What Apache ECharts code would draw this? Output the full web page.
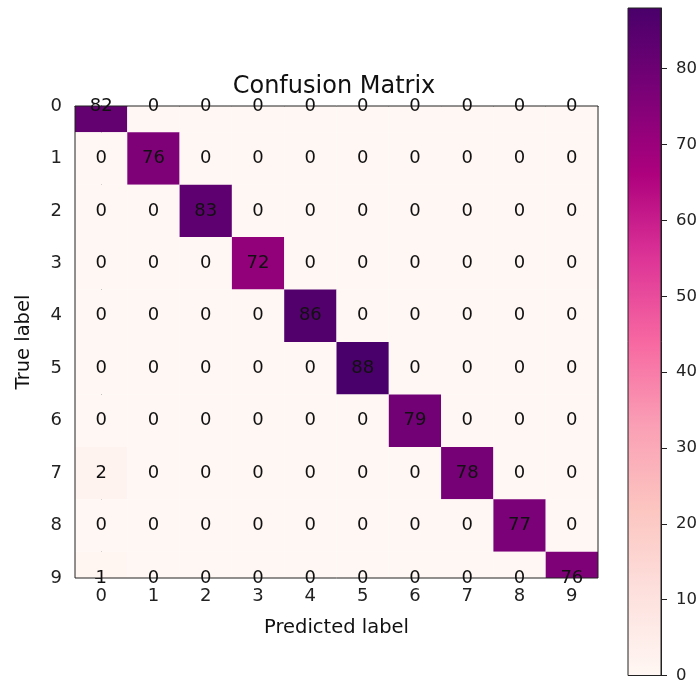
<!DOCTYPE html>
<html>
<head>
<meta charset="utf-8">
<script src="https://cdn.jsdelivr.net/npm/echarts@6/dist/echarts.min.js"></script>
<style>html,body{margin:0;padding:0;background:#fff}#c{width:700px;height:684px}</style>
</head>
<body>
<div id="c"></div>
<script>
const classes = ['0','1','2','3','4','5','6','7','8','9'];
const row0 = [82,0,0,0,0,0,0,0,0,0];
const row1 = [0,76,0,0,0,0,0,0,0,0];
const row2 = [0,0,83,0,0,0,0,0,0,0];
const row3 = [0,0,0,72,0,0,0,0,0,0];
const row4 = [0,0,0,0,86,0,0,0,0,0];
const row5 = [0,0,0,0,0,88,0,0,0,0];
const row6 = [0,0,0,0,0,0,79,0,0,0];
const row7 = [2,0,0,0,0,0,0,78,0,0];
const row8 = [0,0,0,0,0,0,0,0,77,0];
const row9 = [1,0,0,0,0,0,0,0,0,76];
const matrix = [row0,row1,row2,row3,row4,row5,row6,row7,row8,row9];
const colorbarTicks = [0,10,20,30,40,50,60,70,80];
const vmin = 0, vmax = 88;
const rdpu = ['#fff7f3','#fde0dd','#fcc5c0','#fa9fb5','#f768a1','#dd3497','#ae017e','#7a0177','#49006a'];

const cells = [];
matrix.forEach((r, i) => r.forEach((v, j) => cells.push([j, i, v])));

const FONT = 'DejaVu Sans';
const chart = echarts.init(document.getElementById('c'), null, {renderer: 'canvas'});
chart.setOption({
  animation: false,
  title: {
    text: 'Confusion Matrix', left: 334, top: 75, textAlign: 'center', padding: 0,
    textStyle: {fontFamily: FONT, fontSize: 24, fontWeight: 'normal', color: '#111'}
  },
  visualMap: {
    show: false, type: 'continuous', min: vmin, max: vmax, dimension: 2, seriesIndex: 0,
    inRange: {color: rdpu}
  },
  grid: [
    {left: 75, top: 106, width: 523, height: 472, show: false},
    {left: 628, top: 8, width: 33, height: 668, show: false}
  ],
  xAxis: [
    {
      type: 'value', gridIndex: 0, min: -0.5, max: 9.5,
      name: 'Predicted label', nameLocation: 'middle', nameGap: 40,
      nameTextStyle: {fontFamily: FONT, fontSize: 19.5, color: '#111'},
      axisLine: {show: true, lineStyle: {color: '#222', width: 1}},
      axisTick: {show: true, length: 6, customValues: classes.map(Number), lineStyle: {color: '#222'}},
      axisLabel: {customValues: classes.map(Number), margin: 9, fontFamily: FONT, fontSize: 18, color: '#222',
        formatter: v => classes[Math.round(v)]},
      splitLine: {show: false}
    },
    {type: 'value', gridIndex: 1, min: 0, max: 1, show: false}
  ],
  yAxis: [
    {
      type: 'value', gridIndex: 0, min: 0, max: 9, interval: 1, inverse: true,
      name: 'True label', nameLocation: 'middle', nameGap: 41, nameRotate: 90,
      nameTextStyle: {fontFamily: FONT, fontSize: 19.5, color: '#111'},
      axisLine: {show: true, lineStyle: {color: '#222', width: 1}},
      axisTick: {show: true, length: 6, lineStyle: {color: '#222'}},
      axisLabel: {margin: 13, fontFamily: FONT, fontSize: 18, color: '#222',
        formatter: v => classes[Math.round(v)]},
      splitLine: {show: false}
    },
    {
      type: 'value', gridIndex: 1, min: vmin, max: vmax, position: 'right',
      axisLine: {show: true, onZero: false, lineStyle: {color: '#222', width: 1}},
      axisTick: {show: true, length: 6, customValues: colorbarTicks, lineStyle: {color: '#222'}},
      axisLabel: {margin: 15, fontFamily: FONT, fontSize: 16.5, color: '#222', customValues: colorbarTicks},
      splitLine: {show: false}
    }
  ],
  series: [
    {
      type: 'custom', xAxisIndex: 0, yAxisIndex: 0, data: cells, encode: {x: 0, y: 1},
      renderItem: function (params, api) {
        const x = api.value(0), y = api.value(1);
        const p0 = api.coord([x - 0.5, y - 0.5]);
        const p1 = api.coord([x + 0.5, y + 0.5]);
        const rect = echarts.graphic.clipRectByRect({
          x: Math.min(p0[0], p1[0]), y: Math.min(p0[1], p1[1]),
          width: Math.abs(p1[0] - p0[0]), height: Math.abs(p1[1] - p0[1])
        }, params.coordSys);
        if (!rect) return;
        return {type: 'rect', shape: rect, style: {fill: api.visual('color')}};
      },
      z: 1, silent: true
    },
    {
      type: 'custom', xAxisIndex: 0, yAxisIndex: 0, data: cells, encode: {x: 0, y: 1},
      renderItem: function (params, api) {
        const p = api.coord([api.value(0), api.value(1)]);
        return {type: 'text', style: {text: String(api.value(2)), x: p[0], y: p[1],
          align: 'center', verticalAlign: 'middle', fontFamily: FONT, fontSize: 18, fill: '#111'}, z2: 10};
      },
      z: 5, silent: true
    },
    {
      type: 'custom', xAxisIndex: 1, yAxisIndex: 1, data: [[0, vmin, vmax]],
      renderItem: function (params, api) {
        const a = api.coord([0, api.value(1)]);
        const b = api.coord([1, api.value(2)]);
        const shape = {x: a[0], y: b[1], width: b[0] - a[0], height: a[1] - b[1]};
        return {type: 'group', children: [
          {type: 'rect', shape: shape, style: {fill: new echarts.graphic.LinearGradient(0, 1, 0, 0,
            rdpu.map((c, i) => ({offset: i / (rdpu.length - 1), color: c})))}},
          {type: 'rect', shape: shape, style: {fill: 'none', stroke: '#222', lineWidth: 1}}
        ]};
      },
      z: 2, silent: true
    },
    {
      type: 'custom', xAxisIndex: 0, yAxisIndex: 0, data: [[0]],
      renderItem: function (params, api) {
        const cs = params.coordSys;
        return {type: 'rect', shape: {x: cs.x, y: cs.y, width: cs.width, height: cs.height},
          style: {fill: 'none', stroke: '#222', lineWidth: 1}};
      },
      z: 3, silent: true
    }
  ]
});
</script>
</body>
</html>
